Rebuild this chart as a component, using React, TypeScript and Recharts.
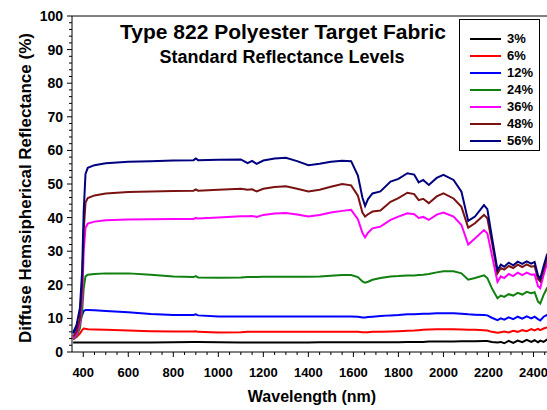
import React from "react"
import { LineChart, Line, XAxis, YAxis, ReferenceLine } from "recharts"

// wavelength samples (nm)
const wavelengths = [
  355, 370, 385, 395, 402, 410, 420, 450, 500, 600, 700, 800, 890, 900, 910,
  1000, 1100, 1130, 1150, 1170, 1200, 1250, 1300, 1350, 1400, 1450, 1500,
  1550, 1590, 1620, 1640, 1652, 1665, 1685, 1720, 1765, 1800, 1840, 1870,
  1890, 1910, 1935, 1970, 2000, 2045, 2080, 2110, 2140, 2180, 2195, 2215,
  2240, 2255, 2270, 2290, 2310, 2330, 2350, 2370, 2390, 2405, 2420, 2430,
  2445, 2460, 2480, 2500,
]

const r56 = [
  5.8, 8, 13, 24, 42, 53, 54.8, 55.6, 56.2, 56.6, 56.8, 57.0, 57.1, 57.6, 57.1,
  57.2, 57.3, 56.2, 56.9, 56.0, 57.0, 57.6, 57.8, 56.8, 55.6, 56.0, 56.6,
  56.9, 56.8, 52.5, 46, 43.5, 45.5, 47.2, 47.8, 50.7, 51.5, 53.2, 52.8,
  50.5, 51.2, 49.7, 51.8, 52.7, 51.2, 47.7, 39.0, 40.3, 43.7, 42.5, 34.3,
  24.4, 26.0, 25.4, 26.6, 25.8, 26.9, 26.2, 27.0, 26.3, 26.8, 22.8, 21.8,
  25.6, 29.0, 31, 32,
]
const r48 = [
  4.6, 6, 10, 20, 36, 44.5, 45.8, 46.6, 47.2, 47.6, 47.8, 47.9, 48.0, 48.4, 48.0,
  48.3, 48.6, 48.3, 48.4, 47.8, 48.6, 49.1, 49.3, 48.6, 47.8, 48.3, 49.2,
  50.0, 49.6, 46.5, 41.5, 40.3, 41.0, 41.8, 42.1, 44.7, 45.8, 47.4, 47.0,
  45.2, 45.6, 44.3, 46.3, 47.2, 45.7, 43.2, 37.0, 38.3, 40.8, 39.8, 32.8,
  23.4, 25.0, 24.5, 25.6, 25.0, 26.0, 25.3, 26.1, 25.4, 25.6, 21.8, 21.0,
  24.6, 28.0, 30, 31,
]
const r36 = [
  4.0, 5.2, 8.5, 16, 30, 37, 38.2, 38.8, 39.2, 39.4, 39.5, 39.6, 39.6, 39.9, 39.7,
  40.0, 40.4, 40.4, 40.5, 40.2, 40.8, 41.2, 41.4, 40.9, 40.3, 40.8, 41.5,
  42.0, 42.3, 39.5, 35.5, 34.1, 35.5, 36.8, 37.3, 39.3, 40.3, 41.3, 41.0,
  39.9, 40.2, 39.3, 40.9, 41.5, 40.3, 37.8, 32.0, 33.8, 36.3, 35.3, 28.9,
  20.9, 22.5, 22.0, 23.2, 22.6, 23.6, 22.9, 23.6, 23.0, 23.1, 19.6, 19.0,
  22.9, 26.4, 28, 29,
]
const r24 = [
  3.8, 4.8, 7, 12, 19, 22.5, 23.0, 23.2, 23.4, 23.4, 23.0, 22.5, 22.3, 22.6, 22.2,
  22.1, 22.2, 22.3, 22.3, 22.3, 22.4, 22.4, 22.4, 22.4, 22.4, 22.5, 22.7,
  22.9, 22.9, 22.3, 21.0, 20.6, 20.9, 21.5, 22.0, 22.5, 22.6, 22.8, 22.8,
  22.9, 23.0, 23.2, 23.7, 24.0, 24.0, 23.4, 21.5, 22.0, 22.8, 22.0, 19.0,
  16.0, 16.8, 16.4, 17.2, 16.8, 17.6, 17.1, 17.9, 17.5, 17.8, 15.0, 14.4,
  17.0, 19.0, 20.5, 21,
]
const r12 = [
  5.5, 7, 9, 11, 12.2, 12.5, 12.5, 12.4, 12.2, 11.8, 11.3, 11.0, 11.0, 11.2, 10.9,
  10.6, 10.6, 10.6, 10.6, 10.6, 10.6, 10.6, 10.6, 10.6, 10.6, 10.6, 10.6,
  10.6, 10.6, 10.5, 10.3, 10.3, 10.4, 10.5, 10.7, 10.9, 11.0, 11.2, 11.2,
  11.3, 11.4, 11.4, 11.5, 11.5, 11.5, 11.4, 11.2, 11.1, 11.0, 10.9, 10.2,
  9.5, 10.0, 9.6, 10.3, 9.8, 10.5, 9.9, 10.6, 10.0, 10.5, 9.8, 9.4,
  10.5, 11.0, 11.5, 12,
]
const r6 = [
  3.7, 4.5, 5.5, 6.5, 7.0, 6.9, 6.8, 6.7, 6.6, 6.4, 6.2, 6.1, 6.1, 6.2, 6.0,
  5.8, 5.9, 6.0, 6.0, 6.0, 6.0, 6.0, 6.0, 6.0, 6.0, 6.0, 6.0,
  6.0, 6.0, 6.0, 5.9, 5.9, 5.9, 6.0, 6.0, 6.1, 6.2, 6.3, 6.4,
  6.5, 6.6, 6.7, 6.8, 6.8, 6.8, 6.7, 6.6, 6.6, 6.5, 6.4, 6.0,
  5.7, 5.9, 6.1, 5.8, 6.3, 6.0, 6.5, 6.2, 6.8, 6.4, 6.9, 6.5,
  7.0, 7.3, 7.6, 8,
]
const r3 = [
  2.8, 2.8, 2.8, 2.8, 2.8, 2.8, 2.8, 2.8, 2.8, 2.8, 2.8, 2.9, 3.0, 3.0, 3.0,
  2.9, 2.8, 2.8, 2.8, 2.8, 2.8, 2.8, 2.8, 2.8, 2.8, 2.9, 2.9,
  2.9, 2.9, 2.9, 2.9, 2.9, 2.9, 2.9, 2.9, 2.9, 2.9, 3.0, 3.0,
  3.0, 3.0, 3.1, 3.1, 3.1, 3.1, 3.2, 3.2, 3.2, 3.3, 3.3, 3.0,
  2.8, 3.0, 2.6, 3.3, 2.7, 3.4, 2.9, 3.6, 3.0, 3.5, 2.9, 3.4,
  3.0, 3.7, 3.3, 3.5,
]

const seriesNames = ["3%", "6%", "12%", "24%", "36%", "48%", "56%"]
const seriesValues = [r3, r6, r12, r24, r36, r48, r56]
const seriesColors = ["#000000", "#ff0000", "#0000ff", "#108010", "#ff00ff", "#7a1212", "#00007f"]

const xTickLabels = [400, 600, 800, 1000, 1200, 1400, 1600, 1800, 2000, 2200, 2400]
const yTickLabels = [0, 10, 20, 30, 40, 50, 60, 70, 80, 90, 100]

const xTicks: number[] = []
for (let v = 400; v <= 2500; v += 50) xTicks.push(v)
const yTicks: number[] = []
for (let v = 0; v <= 100; v += 2) yTicks.push(v)

const data = wavelengths.map((w, i) => {
  const row: Record<string, number> = { wl: w }
  seriesNames.forEach((n, s) => (row[n] = seriesValues[s][i]))
  return row
})

const font = "'Liberation Sans', Arial, sans-serif"

function XTick({ x, y, payload }: any) {
  const major = xTickLabels.includes(payload.value)
  return (
    <g>
      <line x1={x} x2={x} y1={y} y2={y + (major ? 5 : 3)} stroke="#000" />
      {major && (
        <text x={x} y={y + 25} textAnchor="middle" fontSize={13} fontWeight="bold" fontFamily={font} fill="#000">
          {payload.value}
        </text>
      )}
    </g>
  )
}

function YTick({ x, y, payload }: any) {
  const major = yTickLabels.includes(payload.value)
  return (
    <g>
      <line x1={x - (major ? 5 : 3)} x2={x} y1={y} y2={y} stroke="#000" />
      {major && (
        <text x={x - 9} y={y + 5} textAnchor="end" fontSize={14} fontWeight="bold" fontFamily={font} fill="#000">
          {payload.value}
        </text>
      )}
    </g>
  )
}

export default function App() {
  return (
    <div style={{ position: "absolute", left: 0, top: 0, width: 547, height: 410, overflow: "hidden", background: "#fff", fontFamily: font }}>
      <LineChart width={560} height={410} data={data} margin={{ top: 16, right: 4, left: 0, bottom: 0 }}>
        <XAxis
          dataKey="wl"
          type="number"
          domain={[350, 2500]}
          ticks={xTicks}
          interval={0}
          tickSize={0}
          tickMargin={0}
          tickLine={false}
          tick={<XTick />}
          height={58}
          stroke="#000"
        />
        <YAxis
          type="number"
          domain={[0, 100]}
          ticks={yTicks}
          interval={0}
          tickSize={0}
          tickMargin={0}
          tickLine={false}
          tick={<YTick />}
          width={72}
          stroke="#000"
        />
        <ReferenceLine y={100} stroke="#000" />
        {seriesNames.map((n, s) => (
          <Line
            key={n}
            dataKey={n}
            stroke={seriesColors[s]}
            strokeWidth={2}
            dot={false}
            isAnimationActive={false}
          />
        ))}
      </LineChart>

      <div style={{ position: "absolute", left: 0, width: 566, top: 19, textAlign: "center", fontSize: 21, fontWeight: "bold", lineHeight: "26px" }}>
        Type 822 Polyester Target Fabric
      </div>
      <div style={{ position: "absolute", left: 0, width: 564, top: 46, textAlign: "center", fontSize: 18, fontWeight: "bold", lineHeight: "22px" }}>
        Standard Reflectance Levels
      </div>
      <div style={{ position: "absolute", left: 212, width: 200, top: 387, textAlign: "center", fontSize: 16, fontWeight: "bold", lineHeight: "20px" }}>
        Wavelength (nm)
      </div>
      <div
        style={{
          position: "absolute",
          left: 26 - 175,
          top: 188 - 10,
          width: 350,
          textAlign: "center",
          fontSize: 17,
          fontWeight: "bold",
          lineHeight: "20px",
          transform: "rotate(-90deg)",
        }}
      >
        Diffuse Hemsipherical Reflectance (%)
      </div>

      <div style={{ position: "absolute", left: 459, top: 19, width: 79, height: 130, border: "1px solid #000", background: "#fff" }}>
        {seriesNames.map((n, s) => (
          <div key={n} style={{ position: "absolute", left: 0, top: 10 + s * 17, height: 17, display: "flex", alignItems: "center" }}>
            <div style={{ marginLeft: 10, width: 31, height: 2, background: seriesColors[s] }} />
            <span style={{ marginLeft: 6, fontSize: 13, fontWeight: "bold" }}>{n}</span>
          </div>
        ))}
      </div>
    </div>
  )
}
